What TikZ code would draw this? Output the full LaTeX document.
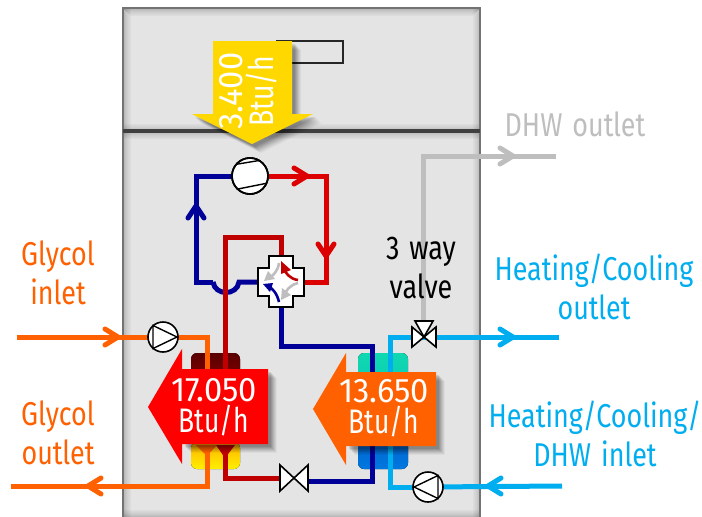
\documentclass[tikz,border=0pt]{standalone}
\usepackage{fontspec}
\setmainfont{Fira Sans}[FakeStretch=0.815,WordSpace=1.4]
\newfontfamily\numfont{Fira Sans}[FakeStretch=0.96]
\newfontfamily\unitfont{Fira Sans}[FakeStretch=0.78]
\usetikzlibrary{arrows.meta,calc}
\definecolor{panelgray}{HTML}{E4E4E4}
\definecolor{pipeblue}{HTML}{000099}
\definecolor{pipered}{HTML}{DD0000}
\definecolor{pipedark}{HTML}{C00000}
\definecolor{glycol}{HTML}{FF6000}
\definecolor{water}{HTML}{00AEEF}
\definecolor{dhw}{HTML}{BEBEBE}
\definecolor{yellowarrow}{HTML}{FFD800}
\definecolor{hxteal}{HTML}{10D8B0}
\definecolor{hxtealb}{HTML}{08C8B8}
\definecolor{hxblue}{HTML}{0058C0}
\definecolor{hxblueb}{HTML}{0078E0}
\definecolor{hxdark}{HTML}{5A0000}
\definecolor{hxdarkb}{HTML}{A00000}
\definecolor{hxorange}{HTML}{FFB000}
\definecolor{hxyellow}{HTML}{FFF000}
\tikzset{
  x=1pt,y=-1pt,
  pipe/.style={line width=5pt,line join=miter},
  flow/.style={line width=5pt,line cap=round,line join=round},
  sym/.style={draw=black,line width=1.6pt,fill=white,line join=miter},
  label/.style={font=\fontsize{33}{39}\selectfont,align=center,inner sep=0pt},
  biglabel/.style={font=\fontsize{34}{31}\selectfont,text=white,align=center,inner sep=0pt},
  bl/.style={draw=black,line width=1.6pt,fill=white,circle,minimum size=#1,inner sep=0pt}
}
\newcommand{\bigtext}[2]{{\numfont #1}\\{\unitfont #2}}
\begin{document}
\begin{tikzpicture}
\useasboundingbox (0,0) rectangle (702,517);
\fill[white] (0,0) rectangle (702,517);
% panel
\fill[panelgray] (123,8) rectangle (480,517);
\foreach \i/\o in {0/0.22,1/0.18,2/0.15,3/0.12,4/0.09,5/0.07,6/0.05,7/0.03}{
  \draw[black,opacity=\o,line width=1pt] (123+\i,8+\i) -- (480-\i,8+\i);
  \draw[black,opacity=\o,line width=1pt] (123+\i,8) -- (123+\i,517);
  \draw[black,opacity=\o,line width=1pt] (480-\i,8) -- (480-\i,517);
  \draw[black,opacity=\o,line width=1pt] (123,131+\i) -- (480,131+\i);
  \draw[black,opacity=\o,line width=1pt] (123,131-\i) -- (480,131-\i);
  \draw[black,opacity=\o,line width=1pt] (123,517-\i) -- (480,517-\i);
}
\draw[black!55,line width=2.5pt] (123,517) -- (123,8) -- (480,8) -- (480,517);
\draw[black!75,line width=3.5pt] (123,131) -- (480,131);
% small rectangle
\draw[black!85,line width=1.5pt] (277,41) rectangle (343,63);
% exchangers
\fill[rounded corners=6pt,top color=hxdark,bottom color=hxdarkb] (191,353) rectangle (240,400);
\fill[rounded corners=6pt,top color=hxorange,bottom color=hxyellow] (191,442) rectangle (240,469);
\fill[rounded corners=6pt,top color=hxteal,bottom color=hxtealb] (358,353) rectangle (408,400);
\fill[rounded corners=6pt,top color=hxblue,bottom color=hxblueb] (358,420) rectangle (408,469);
\fill[glycol] (196,445) -- (217,445) -- (207,456) -- cycle;
\fill[pipedark] (216,445) -- (235,445) -- (225,458) -- cycle;
% coordinates
\coordinate (cmp) at (250,176);
\node[bl=36pt] (comp) at (cmp) {};
\coordinate (pumpL) at (163,337);
\coordinate (pumpR) at (428,487);
\coordinate (three) at (424,337);
% refrigerant
\draw[pipe,pipeblue] (comp.west) -- (196,176) -- (196,282) -- (213,282);
\draw[pipe,pipeblue] (213,282) .. controls (215,296) and (237,296) .. (239,282) -- (258,282);
\draw[pipe,pipered] (comp.east) -- (326,176) -- (326,282) -- (304,282);
\draw[pipe,pipedark] (281,256) -- (281,237) -- (225,237) -- (225,370);
\draw[pipe,pipeblue] (281,307) -- (281,346) -- (372,346) -- (372,481) -- (309,481);
\draw[pipe,pipedark] (280,478) -- (225,478) -- (225,445);
\draw[flow,pipeblue] (188,218) -- (196,206) -- (204,218);
\draw[flow,pipered] (294,168) -- (307,176) -- (294,184);
\draw[flow,pipered] (318,244) -- (326,256) -- (334,244);
% glycol
\draw[pipe,glycol] (17,337) -- (pumpL);
\draw[pipe,glycol] (pumpL) -- (207,337) -- (207,369);
\draw[pipe,glycol] (207,445) -- (207,486) -- (11,486);
\draw[flow,glycol] (105,329) -- (118,337) -- (105,345);
\draw[flow,glycol] (101,478) -- (88,486) -- (101,494);
% water
\draw[pipe,water] (three) -- (390,337) -- (390,372);
\draw[pipe,water] (390,446) -- (390,487) -- (pumpR);
\draw[pipe,water] (three) -- (559,337);
\draw[pipe,water] (pumpR) -- (562,486);
\draw[flow,water] (500,329) -- (513,337) -- (500,345);
\draw[flow,water] (501,478) -- (488,486) -- (501,494);
\draw[pipe,dhw] (423,321) -- (423,156) -- (556,156);
\draw[flow,dhw] (500,148) -- (513,156) -- (500,164);
% symbols
\node[bl=36pt] at (cmp) {};
\begin{scope}
\clip (cmp) circle (18);
\draw[black,line width=1.4pt] (232,165) -- (268,159) (238,189) -- (268,183);
\end{scope}
\draw[black,line width=1.6pt] (cmp) circle (18);
\path[sym] (269,256) -- (293,256) -- (293,268) -- (304,268) -- (304,296) -- (293,296) -- (293,307) -- (269,307) -- (269,296) -- (258,296) -- (258,268) -- (269,268) -- cycle;
\draw[dhw,line width=2.6pt] (279,263) .. controls (278,271) and (273,276) .. (268,279);
\fill[dhw] (264,281) -- (275,279) -- (268,271) -- cycle;
\draw[dhw,line width=2.6pt] (298,283) .. controls (290,285) and (286,290) .. (284,296);
\fill[dhw] (281,300) -- (291,295) -- (282,288) -- cycle;
\draw[pipedark,line width=2.6pt] (298,280) .. controls (290,279) and (285,273) .. (283,267);
\fill[pipedark] (281,261) -- (291,270) -- (281,274) -- cycle;
\draw[pipeblue,line width=2.6pt] (279,302) .. controls (277,293) and (272,288) .. (268,286);
\fill[pipeblue] (263,284) -- (273,283) -- (270,292) -- cycle;
\node[bl=30pt] (pL) at (pumpL) {};
\draw[black,line width=1.4pt,line join=miter] (153,325.5) -- (177,337) -- (153,348.5) -- cycle;
\node[bl=30pt] (pR) at (pumpR) {};
\draw[black,line width=1.4pt,line join=miter] (438,475.5) -- (414,487) -- (438,498.5) -- cycle;
\path[sym] (280,465) -- (308,491) -- (308,465) -- (280,491) -- cycle;
\path[sym] (415,321) -- (433,321) -- (424,337) -- cycle;
\path[sym] (412,327) -- (424,337) -- (412,347) -- cycle;
\path[sym] (436,327) -- (424,337) -- (436,347) -- cycle;
% big arrows with soft shadows
\foreach \d/\o in {9/0.04,8/0.05,7/0.06,6/0.07,5/0.08,4/0.09,3/0.10}{
 \fill[black,opacity=\o] (213+\d,41+\d) -- (292+\d,41+\d) -- (292+\d,114+\d) -- (313+\d,114+\d) -- (252+\d,144+\d) -- (192+\d,114+\d) -- (213+\d,114+\d) -- cycle;
 \fill[black,opacity=\o] (182+\d,369+\d) -- (268+\d,369+\d) -- (268+\d,444+\d) -- (182+\d,444+\d) -- cycle;
 \fill[black,opacity=\o] (346+\d,372+\d) -- (436+\d,372+\d) -- (436+\d,446+\d) -- (346+\d,446+\d) -- cycle;
}
\fill[yellowarrow] (213,41) -- (292,41) -- (292,114) -- (313,114) -- (252,144) -- (192,114) -- (213,114) -- cycle;
\fill[red] (182,369) -- (268,369) -- (268,444) -- (182,444) -- (182,464) -- (148,407) -- (182,349) -- cycle;
\fill[glycol] (346,372) -- (436,372) -- (436,446) -- (346,446) -- (346,465) -- (313,409) -- (346,353) -- cycle;
\node[biglabel,rotate=90] (t1) at (248,91) {\bigtext{3.400}{Btu/h}};
\node[biglabel] (t2) at (214,407) {\bigtext{17.050}{Btu/h}};
\node[biglabel] (t3) at (384,408) {\bigtext{13.650}{Btu/h}};
% labels
\node[label,text=glycol] (a) at (58,273) {Glycol\\inlet};
\node[label,text=glycol] (b) at (58,433) {Glycol\\outlet};
\node[label,text=dhw] (c) at (575,124) {DHW outlet};
\node[label,text=black] (d) at (421,268) {3 way\\valve};
\node[label,text=water] (e) at (594,287) {Heating/Cooling\\outlet};
\node[label,text=water] (f) at (595,434) {Heating/Cooling/\\DHW inlet};
\end{tikzpicture}
\end{document}
